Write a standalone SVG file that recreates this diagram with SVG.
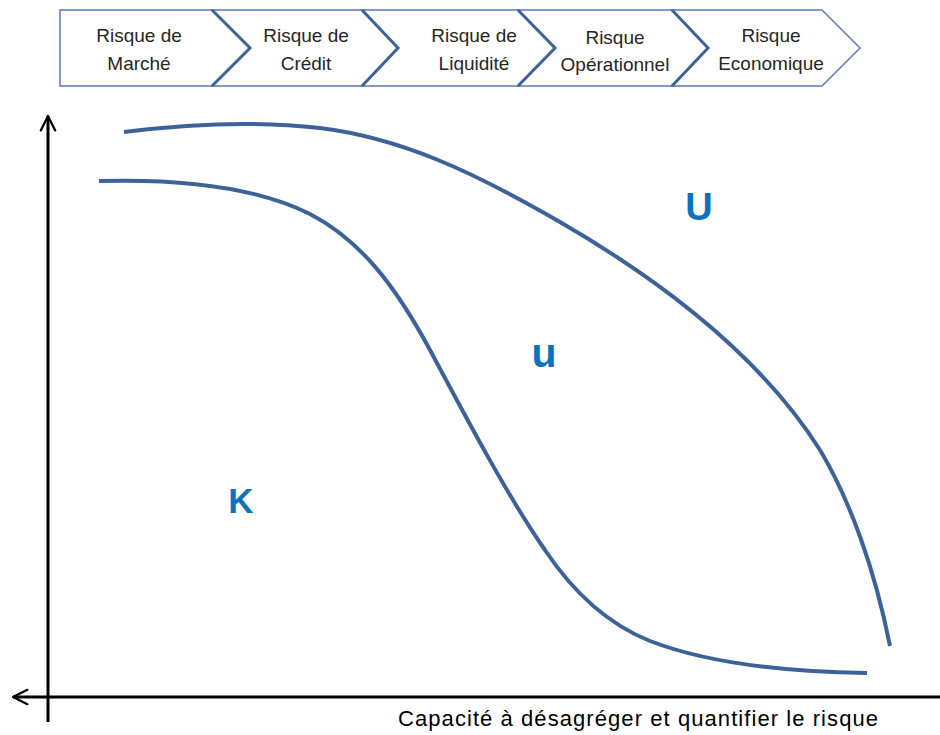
<svg xmlns="http://www.w3.org/2000/svg" width="940" height="735" viewBox="0 0 940 735">
<style>
.chev{fill:#ffffff;stroke:#5a78b0;stroke-width:1.5;stroke-linejoin:miter}
.edge{fill:none;stroke:#3f6199;stroke-width:3;stroke-linejoin:miter}
.lbl{font-family:"Liberation Sans",Arial,sans-serif;font-size:19px;fill:#262626;text-anchor:middle}
.curve{fill:none;stroke:#3d6298;stroke-width:4;stroke-linecap:butt}
.axis{fill:none;stroke:#000000;stroke-width:3}
.big{font-family:"Liberation Sans",Arial,sans-serif;font-weight:bold;fill:#0c72c0;text-anchor:middle}
.xl{font-family:"Liberation Sans",Arial,sans-serif;font-size:22px;fill:#000000}
</style>
<defs>
<marker id="open" viewBox="0 0 20 20" refX="18" refY="10" markerWidth="6" markerHeight="6" markerUnits="strokeWidth" orient="auto">
<path d="M2,2 L18,10 L2,18" fill="none" stroke="#000" stroke-width="2.5" stroke-linecap="round" stroke-linejoin="round"/>
</marker>
</defs>
<rect width="940" height="735" fill="#ffffff"/>

<g id="n1">
<path class="chev" d="M60,10 H212 L250,48 L212,86 H60 Z"/>
<text class="lbl" x="139" y="42">Risque de</text>
<text class="lbl" x="139" y="70">Marché</text>
</g>
<g id="n2">
<path class="chev" d="M212,10 H362 L398,48 L362,86 H212 L250,48 Z"/>
<text class="lbl" x="306" y="42">Risque de</text>
<text class="lbl" x="306" y="70">Crédit</text>
</g>
<g id="n3">
<path class="chev" d="M362,10 H518 L555,48 L518,86 H362 L398,48 Z"/>
<text class="lbl" x="474" y="42">Risque de</text>
<text class="lbl" x="474" y="70">Liquidité</text>
</g>
<g id="n4">
<path class="chev" d="M518,10 H672 L708,48 L672,86 H518 L555,48 Z"/>
<text class="lbl" x="615" y="44">Risque</text>
<text class="lbl" x="615" y="71">Opérationnel</text>
</g>
<g id="n5">
<path class="chev" d="M672,10 H822 L860,48 L822,86 H672 L708,48 Z"/>
<text class="lbl" x="771" y="42">Risque</text>
<text class="lbl" x="771" y="70">Economique</text>
</g>
<g id="chevron-edges">
<path class="edge" d="M212,10 L250,48 L212,86"/>
<path class="edge" d="M362,10 L398,48 L362,86"/>
<path class="edge" d="M518,10 L555,48 L518,86"/>
<path class="edge" d="M672,10 L708,48 L672,86"/>
</g>

<g id="connectors">
<line class="axis" x1="48" y1="722" x2="48" y2="116" marker-end="url(#open)"/>
<line class="axis" x1="940" y1="697" x2="13" y2="697" marker-end="url(#open)"/>
</g>

<g id="curves">
<path id="curve-upper" class="curve" d="M124,132 C180,125 250,120 320,128 C400,138 470,170 560,222 C660,280 760,355 820,450 C850,500 875,570 890,646"/>
<path id="curve-lower" class="curve" d="M99,181 C170,179 250,184 310,214 C360,240 395,285 430,350 C470,425 510,500 545,550 C575,595 610,625 650,641 C710,664 790,672 867,673"/>
</g>

<g id="U"><text class="big" x="699" y="220" font-size="38">U</text></g>
<g id="u"><text class="big" x="544" y="367" font-size="41">u</text></g>
<g id="K"><text class="big" x="241" y="513" font-size="35">K</text></g>

<g id="x-label"><text class="xl" x="398" y="726" textLength="480" lengthAdjust="spacing">Capacité à désagréger et quantifier le risque</text></g>
</svg>
